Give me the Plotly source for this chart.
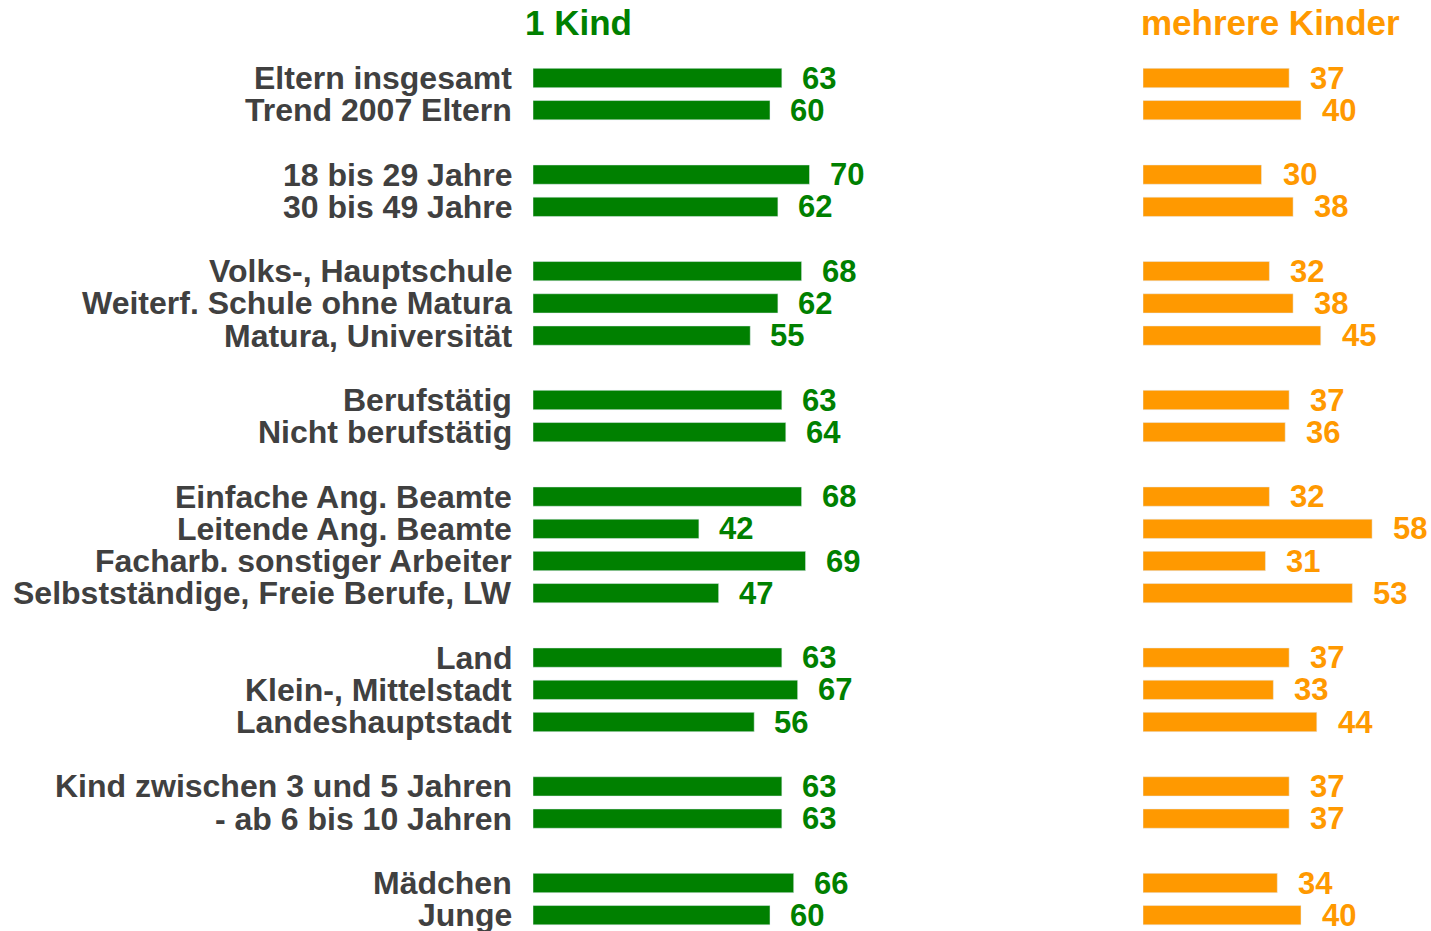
import plotly.graph_objects as go

labels = ["Eltern insgesamt", "Trend 2007 Eltern",
          "18 bis 29 Jahre", "30 bis 49 Jahre",
          "Volks-, Hauptschule", "Weiterf. Schule ohne Matura", "Matura, Universität",
          "Berufstätig", "Nicht berufstätig",
          "Einfache Ang. Beamte", "Leitende Ang. Beamte", "Facharb. sonstiger Arbeiter", "Selbstständige, Freie Berufe, LW",
          "Land", "Klein-, Mittelstadt", "Landeshauptstadt",
          "Kind zwischen 3 und 5 Jahren", "- ab 6 bis 10 Jahren",
          "Mädchen", "Junge"]
rows = [0, 1, 3, 4, 6, 7, 8, 10, 11, 13, 14, 15, 16, 18, 19, 20, 22, 23, 25, 26]
ein_kind = [63, 60, 70, 62, 68, 62, 55, 63, 64, 68, 42, 69, 47, 63, 67, 56, 63, 63, 66, 60]
mehrere = [37, 40, 30, 38, 32, 38, 45, 37, 36, 32, 58, 31, 53, 37, 33, 44, 37, 37, 34, 40]

W, H = 1431, 931
GREEN = "#008000"
ORANGE = "#FF9900"
GREY = "#404040"
FONT = "Liberation Sans, Arial, sans-serif"
PX_UNIT = 3.95
ROW_PX = 32.2
Y0_PX = 78

x1_start = 533
x2_start = 1143
r_min = -Y0_PX / ROW_PX
r_max = r_min + H / ROW_PX

fig = go.Figure()
fig.add_trace(go.Bar(y=rows, x=ein_kind, orientation="h", marker_color=GREEN,
                     width=0.6, xaxis="x", yaxis="y", hoverinfo="skip"))
fig.add_trace(go.Bar(y=rows, x=mehrere, orientation="h", marker_color=ORANGE,
                     width=0.6, xaxis="x2", yaxis="y", hoverinfo="skip"))

ann = []
for r, lab, a, b in zip(rows, labels, ein_kind, mehrere):
    ann.append(dict(x=514 / W, xref="paper", y=r, yref="y", text=lab, showarrow=False,
                    xanchor="right", yanchor="middle",
                    font=dict(family=FONT, size=32, color=GREY, weight="bold")))
    ann.append(dict(x=a, xref="x", y=r, yref="y", text=str(a), showarrow=False,
                    xanchor="left", yanchor="middle", xshift=18,
                    font=dict(family=FONT, size=31, color=GREEN, weight="bold")))
    ann.append(dict(x=b, xref="x2", y=r, yref="y", text=str(b), showarrow=False,
                    xanchor="left", yanchor="middle", xshift=19,
                    font=dict(family=FONT, size=31, color=ORANGE, weight="bold")))

ann.append(dict(x=578 / W, xref="paper", y=1 - 22 / H, yref="paper", text="1 Kind",
                showarrow=False, xanchor="center", yanchor="middle",
                font=dict(family=FONT, size=35, color=GREEN, weight="bold")))
ann.append(dict(x=1270 / W, xref="paper", y=1 - 22 / H, yref="paper", text="mehrere Kinder",
                showarrow=False, xanchor="center", yanchor="middle",
                font=dict(family=FONT, size=35, color=ORANGE, weight="bold")))

fig.update_layout(
    width=W, height=H,
    margin=dict(l=0, r=0, t=0, b=0),
    paper_bgcolor="white", plot_bgcolor="rgba(0,0,0,0)",
    showlegend=False,
    xaxis=dict(domain=[x1_start / W, 1], range=[0, (W - x1_start) / PX_UNIT],
               visible=False, fixedrange=True),
    xaxis2=dict(domain=[x2_start / W, 1], range=[0, (W - x2_start) / PX_UNIT],
                visible=False, fixedrange=True, anchor="y"),
    yaxis=dict(range=[r_max, r_min], visible=False, fixedrange=True),
    annotations=ann,
)

fig.write_html("out.html", config={"displayModeBar": False},
               post_script="document.body.style.margin='0';document.body.style.overflow='hidden';")
